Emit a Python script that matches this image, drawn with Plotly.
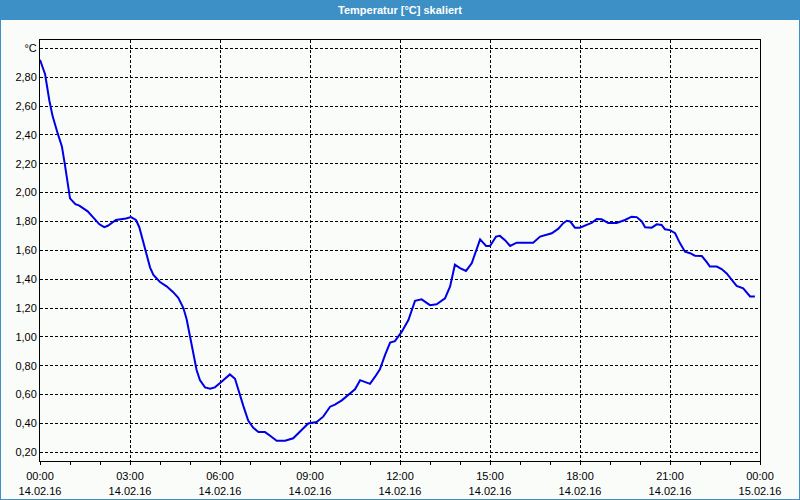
import pandas as pd
import plotly.graph_objects as go

# hours after 14.02.16 00:00
hours = [0.00, 0.17, 0.31, 0.42, 0.59, 0.73, 0.84, 0.94, 1.00, 1.18, 1.31, 1.59, 1.81, 1.98,
         2.14, 2.26, 2.53, 2.87, 3.03, 3.20, 3.31, 3.42, 3.67, 3.78, 4.00, 4.22, 4.44, 4.61,
         4.78, 4.89, 5.00, 5.11, 5.22, 5.33, 5.50, 5.67, 5.83, 6.06, 6.33, 6.50, 6.61, 6.78,
         6.94, 7.11, 7.28, 7.50, 7.67, 7.89, 8.17, 8.44, 8.72, 8.94, 9.22, 9.44, 9.67, 9.83,
         10.06, 10.28, 10.50, 10.67, 10.83, 11.00, 11.17, 11.33, 11.50, 11.67, 11.83, 12.06,
         12.28, 12.50, 12.72, 13.00, 13.22, 13.50, 13.67, 13.83, 14.00, 14.20, 14.39, 14.53,
         14.67, 14.87, 15.00, 15.20, 15.33, 15.50, 15.67, 15.89, 16.11, 16.44, 16.67, 16.89,
         17.06, 17.28, 17.44, 17.56, 17.67, 17.83, 18.00, 18.22, 18.39, 18.56, 18.72, 18.94,
         19.22, 19.50, 19.72, 19.89, 20.06, 20.17, 20.39, 20.56, 20.72, 20.83, 21.00, 21.17,
         21.33, 21.50, 21.67, 21.83, 22.06, 22.22, 22.33, 22.56, 22.72, 22.89, 23.06, 23.22,
         23.44, 23.67, 23.83]
temps = [2.92, 2.82, 2.64, 2.53, 2.41, 2.32, 2.18, 2.04, 1.96, 1.92, 1.91, 1.87, 1.82, 1.78,
         1.76, 1.77, 1.81, 1.82, 1.83, 1.81, 1.76, 1.68, 1.48, 1.43, 1.38, 1.35, 1.31, 1.27,
         1.20, 1.12, 1.00, 0.89, 0.77, 0.70, 0.65, 0.64, 0.65, 0.69, 0.74, 0.71, 0.63, 0.52,
         0.42, 0.37, 0.34, 0.34, 0.315, 0.28, 0.28, 0.297, 0.355, 0.40, 0.41, 0.447, 0.516, 0.53,
         0.56, 0.60, 0.637, 0.70, 0.685, 0.674, 0.724, 0.775, 0.874, 0.96, 0.97, 1.036,
         1.117, 1.25, 1.26, 1.22, 1.226, 1.267, 1.35, 1.50, 1.476, 1.457, 1.51, 1.60,
         1.676, 1.63, 1.63, 1.695, 1.70, 1.67, 1.63, 1.653, 1.653, 1.653, 1.695, 1.71,
         1.718, 1.75, 1.788, 1.805, 1.80, 1.757, 1.757, 1.776, 1.79, 1.817, 1.815, 1.79,
         1.79, 1.81, 1.833, 1.83, 1.80, 1.76, 1.757, 1.78, 1.776, 1.746, 1.74, 1.718,
         1.65, 1.59, 1.58, 1.563, 1.56, 1.52, 1.487, 1.487, 1.47, 1.44, 1.394, 1.353,
         1.337, 1.28, 1.28]

x_ticks = ["2016-02-14 00:00", "2016-02-14 03:00", "2016-02-14 06:00", "2016-02-14 09:00",
           "2016-02-14 12:00", "2016-02-14 15:00", "2016-02-14 18:00", "2016-02-14 21:00",
           "2016-02-15 00:00"]
x_labels = ["00:00<br>14.02.16", "03:00<br>14.02.16", "06:00<br>14.02.16", "09:00<br>14.02.16",
            "12:00<br>14.02.16", "15:00<br>14.02.16", "18:00<br>14.02.16", "21:00<br>14.02.16",
            "00:00<br>15.02.16"]
y_ticks = [0.2, 0.4, 0.6, 0.8, 1.0, 1.2, 1.4, 1.6, 1.8, 2.0, 2.2, 2.4, 2.6, 2.8, 3.0]
y_labels = ["0,20", "0,40", "0,60", "0,80", "1,00", "1,20", "1,40", "1,60", "1,80", "2,00",
            "2,20", "2,40", "2,60", "2,80", "°C"]
title = "Temperatur [°C] skaliert"

start = pd.Timestamp("2016-02-14 00:00")
times = [start + pd.Timedelta(hours=h) for h in hours]

W, H = 800, 500
L, R, T, B = 40, 40, 40, 39
pw, ph = W - L - R, H - T - B
def px(x):
    return (x - L) / pw
def py(y):
    return (H - B - y) / ph

BLUE = "#3d90c6"
fig = go.Figure()
fig.add_trace(go.Scatter(x=times, y=temps, mode="lines",
                         line=dict(color="#0000e6", width=2), hoverinfo="skip"))

font = dict(family="Liberation Sans, Arial, sans-serif", size=11, color="black")
fig.update_layout(
    width=W, height=H,
    margin=dict(l=L, r=R, t=T, b=B, autoexpand=False),
    paper_bgcolor="#fafcfa", plot_bgcolor="#fafcfa",
    showlegend=False,
    font=font,
    xaxis=dict(type="date", range=["2016-02-14 00:00", "2016-02-15 00:00"],
               tickmode="array", tickvals=x_ticks, ticktext=x_labels, automargin=False,
               ticks="outside", ticklen=3, tickcolor="black", ticklabelstandoff=2,
               showgrid=True, gridcolor="black", gridwidth=1, griddash="3px,2px",
               showline=True, linecolor="black", linewidth=1, mirror=True,
               zeroline=False, tickfont=font,
               minor=dict(ticks="outside", ticklen=3, tickcolor="black",
                          dtick=3600000, showgrid=False)),
    yaxis=dict(range=[0.1397, 3.0575], tickmode="array", tickvals=y_ticks, ticktext=y_labels,
               ticks="", automargin=False,
               showgrid=True, gridcolor="black", gridwidth=1, griddash="3px,2px",
               showline=True, linecolor="black", linewidth=1, mirror=True,
               zeroline=False, tickfont=font),
    shapes=[
        dict(type="rect", xref="paper", yref="paper", x0=px(0), x1=px(W), y0=py(20), y1=py(0),
             fillcolor=BLUE, line=dict(width=0), layer="below"),
        dict(type="rect", xref="paper", yref="paper", x0=px(0), x1=px(W), y0=py(H), y1=py(0),
             fillcolor="rgba(0,0,0,0)", line=dict(color=BLUE, width=2), layer="below"),
    ],
    annotations=[
        dict(text="<b>" + title + "</b>", xref="paper", yref="paper", x=px(W / 2), y=py(10),
             xanchor="center", yanchor="middle", showarrow=False,
             font=dict(family="Liberation Sans Narrow, Liberation Sans, sans-serif", size=11,
                       color="white")),
    ],
)

fig.write_html("out.html")
